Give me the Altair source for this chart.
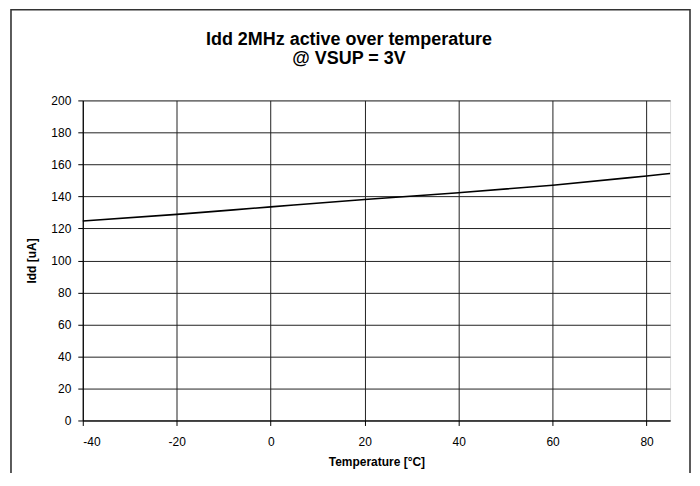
import altair as alt
import pandas as pd

temperature = [-40, -20, 0, 20, 40, 60, 80, 85]
idd = [124.6, 128.8, 133.5, 138.1, 142.3, 147.0, 152.8, 154.3]
x_ticks = [-40, -20, 0, 20, 40, 60, 80]
y_ticks = [0, 20, 40, 60, 80, 100, 120, 140, 160, 180, 200]
title_line1 = "Idd 2MHz active over temperature"
title_line2 = "@ VSUP = 3V"

df = pd.DataFrame({"Temperature": temperature, "Idd": idd})
FONT = "Liberation Sans"
one = pd.DataFrame({"a": [0]})

frame = alt.Chart(one).mark_rect(
    fill=None, stroke="#333333", strokeWidth=1.6
).encode(
    x=alt.value(-72), x2=alt.value(609), y=alt.value(-91), y2=alt.value(400)
)

t1 = alt.Chart(one).mark_text(
    text=title_line1, font=FONT, fontSize=18, fontWeight="bold", color="black",
    align="center", baseline="alphabetic"
).encode(x=alt.value(267), y=alt.value(-56))

t2 = alt.Chart(one).mark_text(
    text=title_line2, font=FONT, fontSize=18, fontWeight="bold", color="black",
    align="center", baseline="alphabetic"
).encode(x=alt.value(267), y=alt.value(-37))

line = alt.Chart(df).mark_line(color="black", strokeWidth=1.6, interpolate="monotone").encode(
    x=alt.X("Temperature:Q",
            scale=alt.Scale(domain=[-40, 85], nice=False, zero=False),
            axis=alt.Axis(values=x_ticks, title="Temperature [°C]", grid=True,
                          labelExpr="'' + datum.value",
                          gridColor="#222222", gridOpacity=1, gridWidth=1,
                          domainColor="black", tickColor="black", tickSize=5,
                          labelFont=FONT, labelFontSize=12, labelColor="black",
                          labelPadding=11, titleFont=FONT, titleFontSize=12,
                          titleFontWeight="bold", titleColor="black", titlePadding=9)),
    y=alt.Y("Idd:Q",
            scale=alt.Scale(domain=[0, 200], nice=False),
            axis=alt.Axis(values=y_ticks, title="Idd [uA]", grid=True,
                          gridColor="#222222", gridOpacity=1, gridWidth=1,
                          domainColor="black", tickColor="black", tickSize=5,
                          labelFont=FONT, labelFontSize=12, labelColor="black",
                          labelPadding=7, titleFont=FONT, titleFontSize=12,
                          titleFontWeight="bold", titleColor="black", titlePadding=12)),
)

chart = alt.layer(frame, t1, t2, line).properties(
    width=589, height=321,
    padding={"left": 75, "top": 92, "right": 22, "bottom": 52},
    autosize=alt.AutoSizeParams(type="none"),
).configure_view(stroke="#bbbbbb", strokeWidth=1).configure(background="white")

chart.save("out.html", embed_options={"renderer": "svg", "actions": False})
